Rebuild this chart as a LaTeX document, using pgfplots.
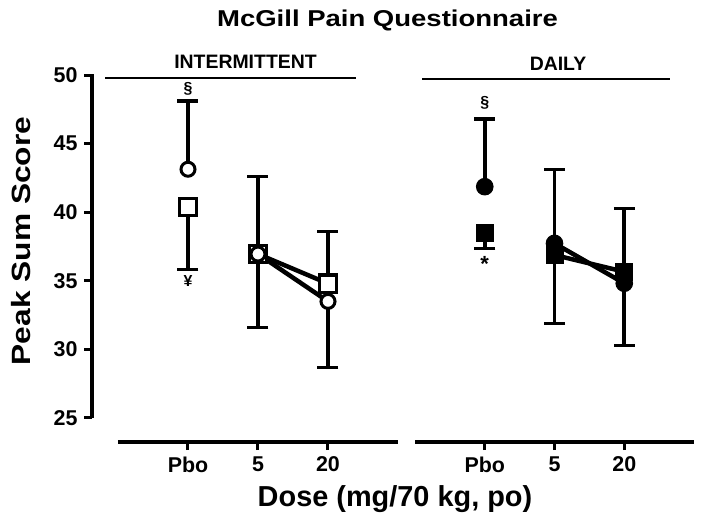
\documentclass[border=0pt]{standalone}
\usepackage{fontspec}
\setmainfont{Liberation Sans}
\newfontfamily\widefont{Liberation Sans}[FakeStretch=1.2]
\usepackage{pgfplots}
\pgfplotsset{compat=1.18}
\begin{document}
\begin{tikzpicture}
\useasboundingbox (0,0) rectangle (701bp,-521bp);
\pgfplotsset{
  panel/.style={
    scale only axis, height=367bp, ymin=23.25, ymax=50, clip=false,
    anchor=south west,
    axis line style={draw=none},
    tick align=outside, major tick length=8bp,
    tick style={line width=3bp, black},
    xtick={1,2,3}, xticklabels={Pbo,5,20},
    xtick pos=bottom, ytick pos=left,
    tick label style={font=\bfseries\fontsize{21.5}{24}\selectfont},
    xticklabel style={yshift=-3bp},
    yticklabel style={xshift=-3bp},
    /pgf/number format/assume math mode=true,
  },
  conn/.style={line width=4.5bp, black, no markers},
  errdown/.style={line width=3.8bp, error bars/.cd, y dir=minus, y explicit,
    error bar style={line width=3.8bp, black},
    error mark options={rotate=90, mark size=10.5bp, line width=3.3bp, black}},
  errup/.style={line width=3.8bp, error bars/.cd, y dir=plus, y explicit,
    error bar style={line width=3.8bp, black},
    error mark options={rotate=90, mark size=10.5bp, line width=3.3bp, black}},
}
% ---------- Intermittent ----------
\begin{axis}[panel, at={(92bp,-442bp)}, width=306bp, xmin=-0.371, xmax=4,
  ytick={25,30,35,40,45,50}]
\addplot[conn] coordinates {(2,36.95) (3,34.8)};
\addplot[conn] coordinates {(2,36.95) (3,33.5)};
\addplot[only marks, black, mark=square*, mark size=8.6bp,
  mark options={fill=white, line width=3.2bp}, errdown]
  coordinates {(1,40.40) +- (0,4.56) (2,36.95) +- (0,5.35) (3,34.8) +- (0,6.1)};
\addplot[only marks, black, mark=*, mark size=7bp,
  mark options={fill=white, line width=3bp}, errup]
  coordinates {(1,43.13) +- (0,4.97) (2,36.95) +- (0,5.65) (3,33.5) +- (0,5.1)};
\node[font=\bfseries\fontsize{16}{16}\selectfont] at (axis cs:1,48.98) {§};
\node[font=\bfseries\fontsize{16}{16}\selectfont] at (axis cs:1,35.0) {¥};
\draw[line width=3.5bp] (axis cs:-0.371,25) -- (axis cs:-0.371,50.05);
\draw[line width=3.5bp] (axis cs:0,23.25) -- (axis cs:4,23.25);
\end{axis}
% ---------- Daily ----------
\begin{axis}[panel, at={(415bp,-442bp)}, width=279bp, xmin=0, xmax=4,
  ytick=\empty]
\addplot[conn] coordinates {(2,36.88) (3,35.66)};
\addplot[conn] coordinates {(2,37.73) (3,34.82)};
\addplot[only marks, black, mark=square*, mark size=8.5bp,
  mark options={fill=black, line width=1bp}, errdown]
  coordinates {(1,38.46) +- (0,1.09) (2,36.88) +- (0,4.98) (3,35.66) +- (0,5.39)};
\addplot[only marks, black, mark=*, mark size=8.3bp,
  mark options={fill=black, line width=1bp}, errup]
  coordinates {(1,41.86) +- (0,4.94) (2,37.73) +- (0,5.4) (3,34.82) +- (0,5.46)};
\node[font=\bfseries\fontsize{16}{16}\selectfont] at (axis cs:1,47.96) {§};
\node[font=\bfseries\fontsize{22}{22}\selectfont] at (axis cs:1,36.2) {*};
\draw[line width=3.5bp] (axis cs:0,23.25) -- (axis cs:4,23.25);
\end{axis}
% ---------- text and header lines ----------
\node[anchor=base, font=\widefont\bfseries\fontsize{23}{24}\selectfont] at (387.5bp,-26bp) {McGill Pain Questionnaire};
\node[anchor=base, font=\bfseries\fontsize{19.5}{20}\selectfont] at (245.5bp,-68.3bp) {INTERMITTENT};
\draw[line width=2.2bp] (105bp,-78bp) -- (356bp,-78bp);
\node[anchor=base, font=\bfseries\fontsize{19.5}{20}\selectfont] at (558bp,-70bp) {DAILY};
\draw[line width=2.2bp] (422bp,-79bp) -- (670bp,-79bp);
\node[rotate=90, anchor=base, font=\widefont\bfseries\fontsize{26.5}{28}\selectfont] at (30bp,-241bp) {Peak Sum Score};
\node[anchor=base, font=\bfseries\fontsize{29}{30}\selectfont] at (395bp,-506bp) {Dose (mg/70 kg, po)};
\end{tikzpicture}
\end{document}
